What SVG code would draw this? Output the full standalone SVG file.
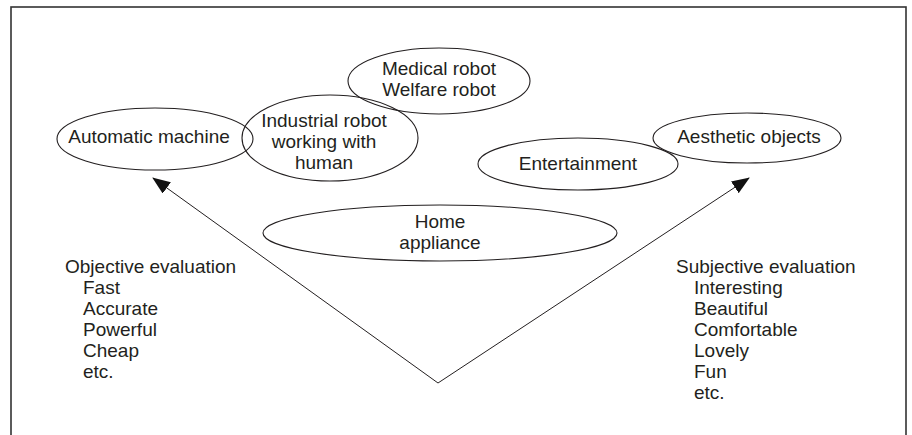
<svg xmlns="http://www.w3.org/2000/svg" width="912" height="435" viewBox="0 0 912 435">
<style>
.n ellipse{fill:none;stroke:#231f20;stroke-width:1.1}
text{font-family:"Liberation Sans",Arial,sans-serif;font-size:19px;fill:#231f20}
.c{text-anchor:middle}
.e{stroke:#231f20;stroke-width:1;fill:none}
</style>
<defs>
<marker id="ah" viewBox="0 0 18 14" refX="17" refY="7" markerWidth="18" markerHeight="14" markerUnits="userSpaceOnUse" orient="auto">
<path d="M0,0 L18,7 L0,14 Z" fill="#111"/>
</marker>
</defs>
<rect x="11" y="7" width="895" height="440" fill="none" stroke="#333" stroke-width="1.6"/>
<g id="automatic" class="n"><ellipse cx="155" cy="139" rx="98" ry="31"/><text class="c" x="149" y="143">Automatic machine</text></g>
<g id="industrial" class="n"><ellipse cx="330" cy="138" rx="88" ry="43"/><text class="c" x="324" y="127">Industrial robot</text><text class="c" x="324" y="148">working with</text><text class="c" x="324" y="169">human</text></g>
<g id="medical" class="n"><ellipse cx="439" cy="81" rx="91" ry="33"/><text class="c" x="439" y="75">Medical robot</text><text class="c" x="439" y="96">Welfare robot</text></g>
<g id="entertainment" class="n"><ellipse cx="578" cy="164" rx="100" ry="26"/><text class="c" x="578" y="170">Entertainment</text></g>
<g id="aesthetic" class="n"><ellipse cx="747" cy="138" rx="94" ry="25"/><text class="c" x="749" y="143">Aesthetic objects</text></g>
<g id="home" class="n"><ellipse cx="440" cy="233" rx="177" ry="28"/><text class="c" x="440" y="228">Home</text><text class="c" x="440" y="249">appliance</text></g>
<g id="connectors">
<line class="e" x1="438" y1="383" x2="153" y2="178" marker-end="url(#ah)"/>
<line class="e" x1="438" y1="383" x2="749" y2="178" marker-end="url(#ah)"/>
</g>
<g id="objective">
<text x="65" y="273">Objective evaluation</text>
<text x="83" y="294">Fast</text>
<text x="83" y="315">Accurate</text>
<text x="83" y="336">Powerful</text>
<text x="83" y="357">Cheap</text>
<text x="83" y="378">etc.</text>
</g>
<g id="subjective">
<text x="676" y="273">Subjective evaluation</text>
<text x="694" y="294">Interesting</text>
<text x="694" y="315">Beautiful</text>
<text x="694" y="336">Comfortable</text>
<text x="694" y="357">Lovely</text>
<text x="694" y="378">Fun</text>
<text x="694" y="399">etc.</text>
</g>
</svg>
